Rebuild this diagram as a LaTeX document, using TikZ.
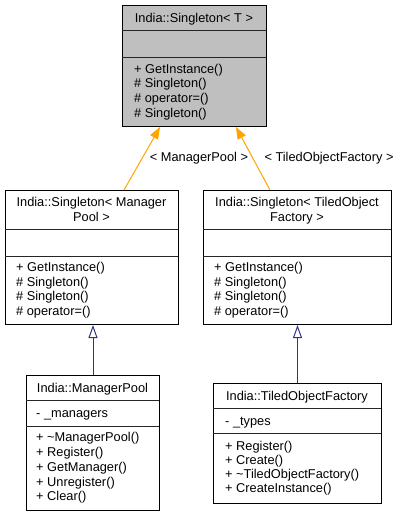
\documentclass[tikz,border=0pt]{standalone}
\usepackage{fontspec}
\setmainfont{Liberation Sans}
\usetikzlibrary{arrows.meta,calc}
\definecolor{boxgray}{RGB}{191,191,191}
\definecolor{inhblue}{RGB}{50,50,135}
\definecolor{tmplorange}{RGB}{255,165,0}
\begin{document}
\begin{tikzpicture}[x=1pt,y=-1pt,
  classbox/.style={draw=black, line width=1pt, rectangle, inner sep=0pt, anchor=north west, fill=white},
  divline/.style={draw=black!85, line width=1pt},
  txt/.style={inner sep=0pt, font=\fontsize{12.8}{14.7}\selectfont, text height=9.2pt, text depth=0pt},
  mem/.style={txt, anchor=west},
  ttl/.style={txt, anchor=center},
  tmpl/.style={draw=tmplorange, line width=1pt, -{Triangle[length=12pt,width=9pt]}},
  inh/.style={draw=inhblue, line width=1pt, -{Triangle[open,length=13pt,width=9pt,fill=white]}}
]
\useasboundingbox (0,0) rectangle (401,516);

% ---- top: India::Singleton< T >
\node[classbox, fill=boxgray, minimum width=144pt, minimum height=121pt] (top) at (122,5) {};
\draw[divline] (122,31) -- (266,31);
\draw[divline] (122,58) -- (266,58);
\node[ttl] (topT) at (194,18) {India::Singleton< T >};
\node[mem] (topM1) at (134,68.7) {+ GetInstance()};
\node[mem] (topM2) at (134,83.4) {\# Singleton()};
\node[mem] (topM3) at (134,98.1) {\# operator=()};
\node[mem] (topM4) at (134,112.8) {\# Singleton()};

% ---- middle left: India::Singleton< ManagerPool >
\node[classbox, minimum width=173pt, minimum height=134pt] (ms) at (5,190) {};
\draw[divline] (5,229) -- (178,229);
\draw[divline] (5,256) -- (178,256);
\node[ttl] (msT1) at (91.5,202) {India::Singleton< Manager};
\node[ttl] (msT2) at (91.5,216.7) {Pool >};
\node[mem] (msM1) at (16,266.7) {+ GetInstance()};
\node[mem] (msM2) at (16,281.4) {\# Singleton()};
\node[mem] (msM3) at (16,296.1) {\# Singleton()};
\node[mem] (msM4) at (16,310.8) {\# operator=()};

% ---- middle right: India::Singleton< TiledObjectFactory >
\node[classbox, minimum width=188pt, minimum height=134pt] (ts) at (203,190) {};
\draw[divline] (203,229) -- (391,229);
\draw[divline] (203,256) -- (391,256);
\node[ttl] (tsT1) at (297,202) {India::Singleton< TiledObject};
\node[ttl] (tsT2) at (297,216.7) {Factory >};
\node[mem] (tsM1) at (214,266.7) {+ GetInstance()};
\node[mem] (tsM2) at (214,281.4) {\# Singleton()};
\node[mem] (tsM3) at (214,296.1) {\# Singleton()};
\node[mem] (tsM4) at (214,310.8) {\# operator=()};

% ---- bottom left: India::ManagerPool
\node[classbox, minimum width=133pt, minimum height=135pt] (mp) at (26,375) {};
\draw[divline] (26,400) -- (159,400);
\draw[divline] (26,426) -- (159,426);
\node[ttl] (mpT) at (92.5,387.5) {India::ManagerPool};
\node[mem] (mpA1) at (36,412.5) {- \_managers};
\node[mem] (mpM1) at (36,437.3) {+ \textasciitilde ManagerPool()};
\node[mem] (mpM2) at (36,452) {+ Register()};
\node[mem] (mpM3) at (36,466.7) {+ GetManager()};
\node[mem] (mpM4) at (36,481.4) {+ Unregister()};
\node[mem] (mpM5) at (36,496.1) {+ Clear()};

% ---- bottom right: India::TiledObjectFactory
\node[classbox, minimum width=168pt, minimum height=120pt] (tf) at (213,383) {};
\draw[divline] (213,408) -- (381,408);
\draw[divline] (213,433) -- (381,433);
\node[ttl] (tfT) at (297,396) {India::TiledObjectFactory};
\node[mem] (tfA1) at (225,420.5) {- \_types};
\node[mem] (tfM1) at (225,446.3) {+ Register()};
\node[mem] (tfM2) at (225,460.3) {+ Create()};
\node[mem] (tfM3) at (225,474.3) {+ \textasciitilde TiledObjectFactory()};
\node[mem] (tfM4) at (225,488.3) {+ CreateInstance()};

% ---- template instantiation edges
\draw[tmpl] ($(ms.north west)+(119,0)$) -- ($(top.south west)+(38,0)$);
\draw[tmpl] ($(ts.north west)+(67,0)$) -- ($(top.south west)+(114,0)$);
\node[ttl] (lblMP) at (199,157) {< ManagerPool >};
\node[ttl] (lblTF) at (329,156.5) {< TiledObjectFactory >};

% ---- inheritance edges
\draw[inh] (mp.north) -- (mp.north |- ms.south);
\draw[inh] (tf.north) -- (tf.north |- ts.south);
\end{tikzpicture}
\end{document}
